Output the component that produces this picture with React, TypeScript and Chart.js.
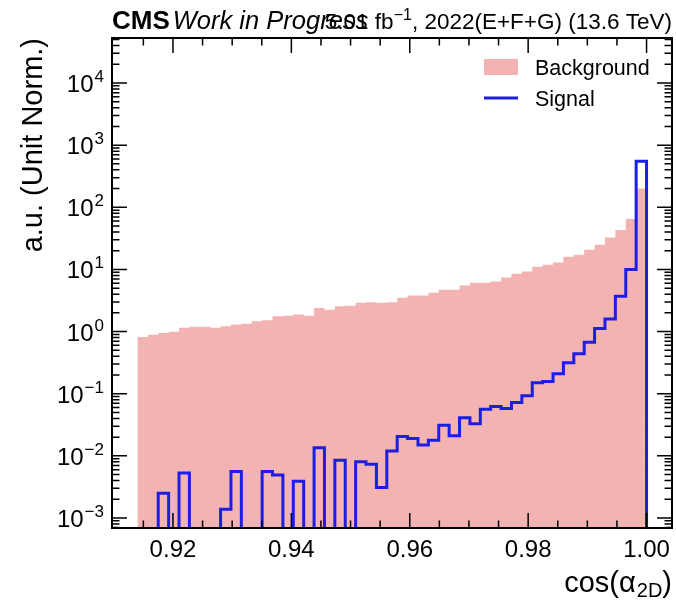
import React, { useEffect, useRef } from 'react';
import { Chart, registerables } from 'chart.js';

Chart.register(...registerables);

// Histogram binning (cos alpha_2D)
const binLow = 0.914;
const binHigh = 1.0;
const nBins = 49;

// Background (unit-normalised) per bin
const background = [
  0.82, 0.89, 0.95, 0.99, 1.15, 1.19, 1.19, 1.15, 1.22, 1.3,
  1.34, 1.46, 1.52, 1.76, 1.8, 1.88, 1.8, 2.4, 2.25, 2.55,
  2.6, 2.9, 2.95, 2.9, 2.95, 3.5, 3.8, 3.8, 4.2, 4.7,
  4.7, 5.5, 6.1, 6.1, 6.4, 7.4, 8.5, 9.3, 11, 11.9,
  12.9, 16, 17.3, 20.8, 25, 32.5, 43, 65, 200,
];

// Signal (unit-normalised) per bin
const signal = [
  0, 0, 0.0025, 0, 0.0053, 0, 0, 0, 0.00138, 0.0056,
  0, 0, 0.0056, 0.0049, 0, 0.0039, 0, 0.0135, 0, 0.0085,
  0, 0.008, 0.0073, 0.0031, 0.012, 0.0205, 0.019, 0.015, 0.0178, 0.031,
  0.021, 0.041, 0.033, 0.056, 0.062, 0.058, 0.072, 0.093, 0.15, 0.157,
  0.21, 0.316, 0.44, 0.67, 1.12, 1.6, 3.7, 10, 550,
];

const xTicks = [0.92, 0.94, 0.96, 0.98, 1.0];
const xTickLabels = ['0.92', '0.94', '0.96', '0.98', '1.00'];
const xMinorTicks = [0.915, 0.925, 0.93, 0.935, 0.945, 0.95, 0.955, 0.965, 0.97, 0.975, 0.985, 0.99, 0.995];
const yExponents = [-3, -2, -1, 0, 1, 2, 3, 4];

const legendLabels = ['Background', 'Signal'];

const xMin = 0.9097;
const xMax = 1.0043;
const yMin = 6.9e-4;
const yMax = 5.3e4;

const BG_COLOR = 'rgb(243,179,179)';
const SIG_COLOR = 'rgb(28,30,226)';
const FONT = '"Liberation Sans", Arial, Helvetica, sans-serif';
const FLOOR = 1e-12;

function edge(k: number) {
  return binLow + (k * (binHigh - binLow)) / nBins;
}

function stepPoints(values: number[], closeToFloor: boolean) {
  const pts: { x: number; y: number }[] = [];
  if (closeToFloor) pts.push({ x: edge(0), y: FLOOR });
  values.forEach((v, k) => pts.push({ x: edge(k), y: v > 0 ? v : FLOOR }));
  const last = values[values.length - 1];
  pts.push({ x: edge(nBins), y: last > 0 ? last : FLOOR });
  if (closeToFloor) pts.push({ x: edge(nBins), y: FLOOR });
  return pts;
}

const decorPlugin = {
  id: 'decor',
  afterDatasetsDraw(chart: any) {
    const { ctx, chartArea: a, scales } = chart;
    const xs = scales.x;
    const ys = scales.y;
    ctx.save();
    ctx.strokeStyle = '#000';
    ctx.fillStyle = '#000';

    // ticks
    const majL = 15;
    const minL = 7.5;
    ctx.lineWidth = 1.5;
    ctx.beginPath();
    const vTick = (v: number, len: number) => {
      const px = xs.getPixelForValue(v);
      ctx.moveTo(px, a.bottom);
      ctx.lineTo(px, a.bottom - len);
      ctx.moveTo(px, a.top);
      ctx.lineTo(px, a.top + len);
    };
    xTicks.forEach((v) => vTick(v, majL));
    xMinorTicks.forEach((v) => vTick(v, minL));
    const hTick = (v: number, len: number) => {
      const py = ys.getPixelForValue(v);
      if (py < a.top - 0.5 || py > a.bottom + 0.5) return;
      ctx.moveTo(a.left, py);
      ctx.lineTo(a.left + len, py);
      ctx.moveTo(a.right, py);
      ctx.lineTo(a.right - len, py);
    };
    for (let e = -4; e <= 5; e++) {
      hTick(Math.pow(10, e), majL);
      for (let m = 2; m <= 9; m++) hTick(m * Math.pow(10, e), minL);
    }
    ctx.stroke();

    // frame
    ctx.lineWidth = 2;
    ctx.strokeRect(a.left, a.top, a.right - a.left, a.bottom - a.top);

    // x tick labels
    ctx.font = `24px ${FONT}`;
    ctx.textAlign = 'center';
    ctx.textBaseline = 'alphabetic';
    xTicks.forEach((v, i) => {
      ctx.fillText(xTickLabels[i], xs.getPixelForValue(v), 557);
    });

    // y tick labels 10^e
    ctx.textAlign = 'left';
    yExponents.forEach((e) => {
      const py = ys.getPixelForValue(Math.pow(10, e));
      const expStr = e < 0 ? '\u2212' + Math.abs(e) : String(e);
      ctx.font = `24px ${FONT}`;
      const w10 = ctx.measureText('10').width;
      ctx.font = `17px ${FONT}`;
      const wE = ctx.measureText(expStr).width;
      const x0 = 104 - wE - w10 - 1;
      ctx.font = `24px ${FONT}`;
      ctx.fillText('10', x0, py + 9);
      ctx.font = `17px ${FONT}`;
      ctx.fillText(expStr, x0 + w10 + 1, py - 1);
    });

    // y title
    ctx.save();
    ctx.translate(42, a.top);
    ctx.rotate(-Math.PI / 2);
    ctx.font = `29px ${FONT}`;
    ctx.textAlign = 'right';
    ctx.fillText('a.u. (Unit Norm.)', 0, 0);
    ctx.restore();

    // x title: cos(α_2D)
    {
      ctx.textAlign = 'left';
      const main = `29px ${FONT}`;
      const sub = `20px ${FONT}`;
      ctx.font = main;
      const w1 = ctx.measureText('cos(\u03b1').width;
      const w3 = ctx.measureText(')').width;
      ctx.font = sub;
      const w2 = ctx.measureText('2D').width;
      const base = 592;
      let x = a.right - (w1 + w2 + w3 + 1);
      ctx.font = main;
      ctx.fillText('cos(\u03b1', x, base);
      x += w1 + 1;
      ctx.font = sub;
      ctx.fillText('2D', x, base + 5);
      x += w2;
      ctx.font = main;
      ctx.fillText(')', x, base);
    }

    // header
    {
      const base = 29;
      ctx.textAlign = 'left';
      ctx.font = `bold 26px ${FONT}`;
      ctx.fillText('CMS', a.left, base);
      const wc = ctx.measureText('CMS').width;
      ctx.font = `italic 25.5px ${FONT}`;
      ctx.fillText('Work in Progress', a.left + wc + 3, base);

      const f = `22.5px ${FONT}`;
      const fs = `16px ${FONT}`;
      const p1 = '5.01 fb';
      const p2 = '\u22121';
      const p3 = ', 2022(E+F+G) (13.6 TeV)';
      ctx.font = f;
      const w1 = ctx.measureText(p1).width;
      const w3 = ctx.measureText(p3).width;
      ctx.font = fs;
      const w2 = ctx.measureText(p2).width;
      let x = a.right - (w1 + w2 + w3);
      ctx.font = f;
      ctx.fillText(p1, x, base);
      x += w1;
      ctx.font = fs;
      ctx.fillText(p2, x, base - 9);
      x += w2;
      ctx.font = f;
      ctx.fillText(p3, x, base);
    }

    // legend
    {
      ctx.fillStyle = BG_COLOR;
      ctx.fillRect(484, 59, 34, 16);
      ctx.strokeStyle = SIG_COLOR;
      ctx.lineWidth = 3;
      ctx.beginPath();
      ctx.moveTo(484, 98);
      ctx.lineTo(518, 98);
      ctx.stroke();
      ctx.fillStyle = '#000';
      ctx.font = `21.5px ${FONT}`;
      ctx.textAlign = 'left';
      ctx.fillText(legendLabels[0], 535, 74.5);
      ctx.fillText(legendLabels[1], 535, 106);
    }

    ctx.restore();
  },
};

export default function App() {
  const ref = useRef<HTMLCanvasElement | null>(null);
  useEffect(() => {
    document.body.style.margin = '0';
    const canvas = ref.current;
    if (!canvas) return;
    const chart = new Chart(canvas, {
      type: 'line',
      data: {
        datasets: [
          {
            label: legendLabels[1],
            data: stepPoints(signal, true),
            stepped: 'before',
            borderColor: SIG_COLOR,
            borderWidth: 3,
            borderJoinStyle: 'miter',
            borderCapStyle: 'butt',
            pointRadius: 0,
            fill: false,
            order: 0,
          },
          {
            label: legendLabels[0],
            data: stepPoints(background, false),
            stepped: 'before',
            borderWidth: 0,
            borderColor: 'rgba(0,0,0,0)',
            backgroundColor: BG_COLOR,
            pointRadius: 0,
            fill: 'start',
            order: 1,
          },
        ] as any,
      },
      options: {
        animation: false,
        responsive: false,
        devicePixelRatio: 1,
        layout: { padding: { left: 112, right: 4, top: 38, bottom: 78 } },
        scales: {
          x: { type: 'linear', min: xMin, max: xMax, display: false },
          y: { type: 'logarithmic', min: yMin, max: yMax, display: false },
        },
        plugins: {
          legend: { display: false },
          tooltip: { enabled: false },
        },
        events: [],
      },
      plugins: [decorPlugin],
    } as any);
    return () => chart.destroy();
  }, []);
  return (
    <div style={{ width: 676, height: 606, background: '#fff' }}>
      <canvas ref={ref} width={676} height={606} style={{ display: 'block', width: 676, height: 606 }} />
    </div>
  );
}
